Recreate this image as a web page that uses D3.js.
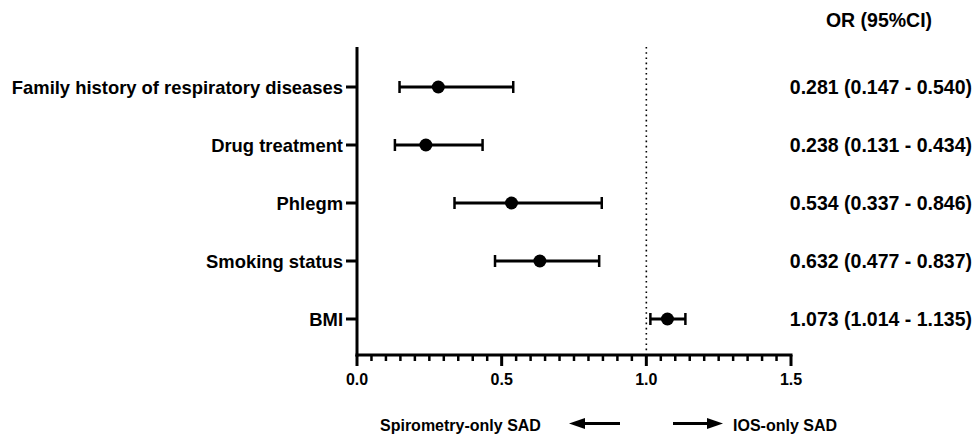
<!DOCTYPE html>
<html>
<head>
<meta charset="utf-8">
<script src="https://cdn.jsdelivr.net/npm/d3@7"></script>
<style>
  body { margin: 0; background: #fff; }
  svg text { font-family: "Liberation Sans", Arial, sans-serif; font-weight: bold; fill: #000; }
</style>
</head>
<body>
<div id="plot"></div>
<script>
const labels = ["Family history of respiratory diseases", "Drug treatment", "Phlegm", "Smoking status", "BMI"],
      or = [0.281, 0.238, 0.534, 0.632, 1.073],
      lo = [0.147, 0.131, 0.337, 0.477, 1.014],
      hi = [0.540, 0.434, 0.846, 0.837, 1.135],
      majorTicks = [0, 0.5, 1.0, 1.5]

const w = 977, h = 441,
    plotTop = 47, plotBottom = 355,
    x = d3.scaleLinear().domain([0, 1.5]).range([357, 791]),
    y = d3.scalePoint().domain(labels).range([87, 319])

const svg = d3.select("#plot").append("svg")
  .attr("width", w).attr("height", h)

// axes
svg.append("line")
  .attr("x1", x(0)).attr("x2", x(0))
  .attr("y1", plotTop).attr("y2", plotBottom + 1.5)
  .attr("stroke", "#000").attr("stroke-width", 3)

svg.append("line")
  .attr("x1", x(0) - 1.5).attr("x2", x(1.5) + 1.5)
  .attr("y1", plotBottom).attr("y2", plotBottom)
  .attr("stroke", "#000").attr("stroke-width", 3)

// minor ticks every 0.05
const minor = d3.range(1, 30).filter(i => i % 10 !== 0).map(i => i * 0.05)
svg.selectAll(".minor").data(minor).join("line")
  .attr("x1", d => x(d)).attr("x2", d => x(d))
  .attr("y1", plotBottom).attr("y2", plotBottom + 6)
  .attr("stroke", "#000").attr("stroke-width", 2.5)

svg.selectAll(".major").data(majorTicks).join("line")
  .attr("x1", d => x(d)).attr("x2", d => x(d))
  .attr("y1", plotBottom).attr("y2", plotBottom + 11)
  .attr("stroke", "#000").attr("stroke-width", 3)

svg.selectAll(".xlab").data(majorTicks).join("text")
  .attr("x", d => x(d)).attr("y", plotBottom + 30)
  .attr("text-anchor", "middle")
  .style("font-size", "16px")
  .text(d => d.toFixed(1))

// y ticks and labels
svg.selectAll(".ytick").data(labels).join("line")
  .attr("x1", x(0) - 11).attr("x2", x(0))
  .attr("y1", d => y(d)).attr("y2", d => y(d))
  .attr("stroke", "#000").attr("stroke-width", 3)

svg.selectAll(".ylab").data(labels).join("text")
  .attr("x", x(0) - 14).attr("y", d => y(d))
  .attr("dy", "0.36em")
  .attr("text-anchor", "end")
  .style("font-size", "18.4px")
  .text(d => d)

// reference line at 1
svg.append("line")
  .attr("x1", x(1)).attr("x2", x(1))
  .attr("y1", plotTop).attr("y2", plotBottom - 2)
  .attr("stroke", "#000").attr("stroke-width", 1.6)
  .attr("stroke-dasharray", "1.6,3.6")

// error bars
const rows = labels.map((d, i) => ({label: d, or: or[i], lo: lo[i], hi: hi[i]}))
const g = svg.append("g")
g.selectAll(".ci").data(rows).join("line")
  .attr("x1", d => x(d.lo)).attr("x2", d => x(d.hi))
  .attr("y1", d => y(d.label)).attr("y2", d => y(d.label))
  .attr("stroke", "#000").attr("stroke-width", 3)
for (const k of ["lo", "hi"]) {
  g.selectAll(".cap" + k).data(rows).join("line")
    .attr("x1", d => x(d[k])).attr("x2", d => x(d[k]))
    .attr("y1", d => y(d.label) - 6).attr("y2", d => y(d.label) + 6)
    .attr("stroke", "#000").attr("stroke-width", 2.5)
}
g.selectAll(".pt").data(rows).join("circle")
  .attr("cx", d => x(d.or)).attr("cy", d => y(d.label))
  .attr("r", 6.5).attr("fill", "#000")

// OR text column
svg.append("text")
  .attr("x", 879).attr("y", 27)
  .attr("text-anchor", "middle")
  .style("font-size", "19.5px")
  .text("OR (95%CI)")

svg.selectAll(".ortxt").data(rows).join("text")
  .attr("x", 972).attr("y", d => y(d.label))
  .attr("dy", "0.36em")
  .attr("text-anchor", "end")
  .style("font-size", "19.5px")
  .text(d => `${d.or.toFixed(3)} (${d.lo.toFixed(3)} - ${d.hi.toFixed(3)})`)

// direction arrows
svg.append("text")
  .attr("x", 380).attr("y", 431)
  .style("font-size", "16px")
  .text("Spirometry-only SAD")
svg.append("text")
  .attr("x", 733).attr("y", 431)
  .style("font-size", "16px")
  .text("IOS-only SAD")

const ay = 423.5
svg.append("line").attr("x1", 582).attr("x2", 620).attr("y1", ay).attr("y2", ay)
  .attr("stroke", "#000").attr("stroke-width", 3)
svg.append("path").attr("d", `M569,${ay} L585,${ay - 5.5} L585,${ay + 5.5} Z`).attr("fill", "#000")
svg.append("line").attr("x1", 673).attr("x2", 710).attr("y1", ay).attr("y2", ay)
  .attr("stroke", "#000").attr("stroke-width", 3)
svg.append("path").attr("d", `M723,${ay} L707,${ay - 5.5} L707,${ay + 5.5} Z`).attr("fill", "#000")
</script>
</body>
</html>
